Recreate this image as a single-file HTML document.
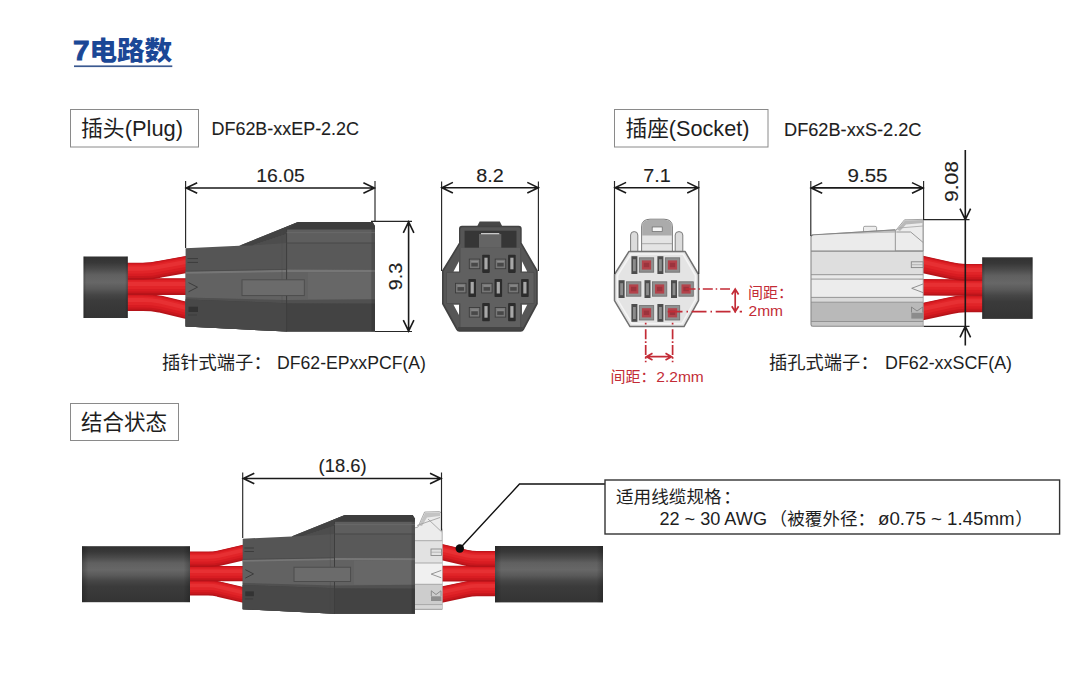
<!DOCTYPE html>
<html lang="zh-CN">
<head>
<meta charset="utf-8">
<title>7电路数</title>
<style>
html,body{margin:0;padding:0;background:#fff;}
body{width:1080px;height:675px;overflow:hidden;font-family:"Liberation Sans","Noto Sans CJK SC",sans-serif;}
svg{display:block;}
text{font-family:"Liberation Sans","Noto Sans CJK SC",sans-serif;fill:#1e1e1e;}
.dim{stroke:#1a1a1a;stroke-width:1.6;fill:none;}
.dt{stroke:#1e1e1e;stroke-width:0.12px;}
.ext{stroke:#262626;stroke-width:1.15;fill:none;}
.red{stroke:#c32b36;stroke-width:1.7;fill:none;}
.rt{fill:#c32b36;}
</style>
</head>
<body>
<svg width="1080" height="675" viewBox="0 0 1080 675">
<defs>
<linearGradient id="cab" x1="0" y1="0" x2="0" y2="1">
<stop offset="0" stop-color="#313131"/><stop offset="0.1" stop-color="#383838"/><stop offset="0.2" stop-color="#4a4a4a"/><stop offset="0.3" stop-color="#606060"/><stop offset="0.42" stop-color="#676767"/><stop offset="0.52" stop-color="#5a5a5a"/><stop offset="0.62" stop-color="#464646"/><stop offset="0.72" stop-color="#3b3b3b"/><stop offset="1" stop-color="#343434"/>
</linearGradient>
<linearGradient id="cabe" x1="0" y1="0" x2="1" y2="0">
<stop offset="0" stop-color="#000" stop-opacity="0.22"/><stop offset="0.06" stop-color="#000" stop-opacity="0"/><stop offset="0.94" stop-color="#000" stop-opacity="0"/><stop offset="1" stop-color="#000" stop-opacity="0.22"/>
</linearGradient>
</defs>

<text x="72.9" y="60.1" font-size="27.6" font-weight="900" style="fill:#1b4796;stroke:#1b4796;stroke-width:0.9" textLength="16.6" lengthAdjust="spacingAndGlyphs">7</text>
<text x="89.4" y="60.1" font-size="25.6" font-weight="900" style="fill:#1b4796" textLength="82.8" lengthAdjust="spacingAndGlyphs">电路数</text>
<rect x="74" y="65.4" width="98.3" height="1.7" fill="#3a5990"/>
<rect x="70.5" y="109.5" width="128" height="37.5" fill="#fff" stroke="#8a8a8a" stroke-width="1"/>
<text x="81" y="135.5" font-size="21.5" textLength="102" lengthAdjust="spacingAndGlyphs">插头(Plug)</text>
<text x="211.5" y="135.4" class="dt" font-size="18.7" textLength="147.5" lengthAdjust="spacingAndGlyphs">DF62B-xxEP-2.2C</text>
<rect x="614.5" y="109.5" width="153.5" height="37.5" fill="#fff" stroke="#8a8a8a" stroke-width="1"/>
<text x="625.5" y="135.5" font-size="21.5" textLength="124" lengthAdjust="spacingAndGlyphs">插座(Socket)</text>
<text x="784" y="135.6" class="dt" font-size="18.7" textLength="137.5" lengthAdjust="spacingAndGlyphs">DF62B-xxS-2.2C</text>
<g id="plug-side">
<path d="M124,302.6 L143,302.6 Q152,302.6 160,304.1 L190,311.3" fill="none" stroke="#b51319" stroke-width="17.0"/><path d="M124,302.6 L143,302.6 Q152,302.6 160,304.1 L190,311.3" fill="none" stroke="#c9171d" stroke-width="15.0" transform="translate(0,-0.60)"/><path d="M124,302.6 L143,302.6 Q152,302.6 160,304.1 L190,311.3" fill="none" stroke="#d81c22" stroke-width="12.2" transform="translate(0,-1.19)"/><path d="M124,302.6 L143,302.6 Q152,302.6 160,304.1 L190,311.3" fill="none" stroke="#e12428" stroke-width="8.5" transform="translate(0,-1.87)"/><path d="M124,302.6 L143,302.6 Q152,302.6 160,304.1 L190,311.3" fill="none" stroke="#e73033" stroke-width="4.1" transform="translate(0,-2.55)"/>
<path d="M124,286.6 L190,286.6" fill="none" stroke="#b51319" stroke-width="16.6"/><path d="M124,286.6 L190,286.6" fill="none" stroke="#c9171d" stroke-width="14.6" transform="translate(0,-0.58)"/><path d="M124,286.6 L190,286.6" fill="none" stroke="#d81c22" stroke-width="12.0" transform="translate(0,-1.16)"/><path d="M124,286.6 L190,286.6" fill="none" stroke="#e12428" stroke-width="8.3" transform="translate(0,-1.83)"/><path d="M124,286.6 L190,286.6" fill="none" stroke="#e73033" stroke-width="4.0" transform="translate(0,-2.49)"/>
<path d="M124,271.2 L143,271.2 Q152,271.2 160,269.2 L190,263.8" fill="none" stroke="#b51319" stroke-width="17.0"/><path d="M124,271.2 L143,271.2 Q152,271.2 160,269.2 L190,263.8" fill="none" stroke="#c9171d" stroke-width="15.0" transform="translate(0,-0.60)"/><path d="M124,271.2 L143,271.2 Q152,271.2 160,269.2 L190,263.8" fill="none" stroke="#d81c22" stroke-width="12.2" transform="translate(0,-1.19)"/><path d="M124,271.2 L143,271.2 Q152,271.2 160,269.2 L190,263.8" fill="none" stroke="#e12428" stroke-width="8.5" transform="translate(0,-1.87)"/><path d="M124,271.2 L143,271.2 Q152,271.2 160,269.2 L190,263.8" fill="none" stroke="#e73033" stroke-width="4.1" transform="translate(0,-2.55)"/>
<rect x="83.5" y="256.5" width="44.3" height="61.5" fill="url(#cab)"/><rect x="83.5" y="256.5" width="44.3" height="61.5" fill="url(#cabe)"/>
<path d="M185.6,248.3 L239.3,245.8 L298.0,222.0 L372.6,222.0 L375.0,226.0 L375.0,331.5 L286.6,331.5 L185.6,326.5 Z" fill="#555"/><rect x="286.6" y="229.0" width="88.4" height="14.0" fill="#5e5e5e"/><rect x="286.6" y="243.0" width="88.4" height="28.0" fill="#595959"/><path d="M298.0,222.0 L372.6,222.0 L375.0,226.0 L375.0,229.4 L286.6,229.4 L281.0,229.2 Z" fill="#3d3d3d"/><path d="M239.3,245.8 L298.0,222.0 L286.6,229.4 L286.6,234.0 L252.0,245.4 Z" fill="#434343"/><path d="M252.0,245.4 L286.6,234.0 V243.0 Z" fill="#4d4d4d"/><path d="M185.6,271.5 L286.6,269.6 L375.0,269.8 L375.0,300.0 L286.6,301.5 L185.6,297.6 Z" fill="#626262"/><rect x="308.0" y="272.4" width="63.0" height="26.9" fill="#676767"/><path d="M185.6,272.6 L286.6,270.8 L375.0,271.0" stroke="#767676" stroke-width="2.2" fill="none"/><path d="M185.6,271.2 L286.6,269.4" stroke="#474747" stroke-width="0.8" fill="none"/><path d="M185.6,297.4 L286.6,300.0 L375.0,299.3 L375.0,331.5 L286.6,331.5 L185.6,326.5 Z" fill="#505050"/><path d="M185.6,299.6 L286.6,303.2 L375.0,303.6 L375.0,331.5 L286.6,331.5 L185.6,326.5 Z" fill="#434343"/><path d="M185.6,299.6 L286.6,303.2 L286.6,331.5 L185.6,326.5 Z" fill="#484848"/><rect x="371.4" y="229.4" width="3.6" height="102.1" fill="#000" opacity="0.13"/><path d="M286.6,229.0 V331.5" stroke="#3e3e3e" stroke-width="1" fill="none"/><path d="M282.0,231.0 V331.2" stroke="#4a4a4a" stroke-width="0.6" fill="none" opacity="0.6"/><path d="M286.6,243.0 H375.0" stroke="#484848" stroke-width="1.1" fill="none"/><path d="M286.6,232.6 H375.0" stroke="#6c6c6c" stroke-width="0.8" fill="none"/><rect x="242.0" y="279.8" width="62.3" height="15.8" fill="#6b6b6b" stroke="#4b4b4b" stroke-width="0.9"/><path d="M187.5,258.6 h10.5 M187.5,262.4 h10.5 M188.5,282.6 l9.0,4.6 l-9.0,4.6 M188.0,315.0 h9.0" stroke="#3c3c3c" stroke-width="1" fill="none"/><rect x="188.5" y="306.7" width="9.5" height="5.3" fill="#333"/>
</g>
<path class="ext" d="M185.6,181V248M375,181V222"/>
<path class="dim" d="M186.2,188H374.4M197.2,182.7L186.2,188L197.2,193.3M363.4,182.7L374.4,188L363.4,193.3"/>
<text x="280.5" y="181.7" class="dt" font-size="18.7" text-anchor="middle" textLength="48.5" lengthAdjust="spacingAndGlyphs">16.05</text>
<path class="ext" d="M371,221.4H412M375,331.5H412"/>
<path class="dim" d="M408.6,221.8V331.2M403.3,232.8L408.6,221.8L413.90000000000003,232.8M403.3,320.2L408.6,331.2L413.90000000000003,320.2"/>
<text transform="translate(402.3,276.5) rotate(-90)" class="dt" font-size="18.7" text-anchor="middle" textLength="27.5" lengthAdjust="spacingAndGlyphs">9.3</text>
<text x="162" y="368.8" font-size="18.3">插针式端子：</text>
<text x="277" y="368.5" font-size="18" textLength="149" lengthAdjust="spacingAndGlyphs">DF62-EPxxPCF(A)</text>
<g id="plug-front">
<path d="M477.2,226.2 L479.6,221.5 L499.8,221.5 L502.2,226.2 Z" fill="#474747"/>
<path d="M462,225.7 H518.7 Q521.7,225.7 521.7,228.7 V242.8 L537.8,270.6 V303.9 L524,329.8 Q523,331.7 520.8,331.7 H459.4 Q457.2,331.7 456.2,329.8 L442,303.9 V270.6 L459,242.8 V228.7 Q459,225.7 462,225.7 Z" fill="#424242"/>
<path d="M462.5,227.2 H518.2 Q520.3,227.2 520.3,229.3 V243.6 L536.2,271.2 V303.3 L522.6,328.6 Q522,329.9 520.4,329.9 H459.8 Q458.2,329.9 457.6,328.6 L443.6,303.3 V271.2 L460.4,243.6 V229.3 Q460.4,227.2 462.5,227.2 Z" fill="#565656"/>
<path d="M459,261.3 V271.5 H453.5 Z M522,261.3 V271.5 H527.2 Z M459,315 V304.8 H453.5 Z M522,315 V304.8 H527.2 Z" fill="#fff"/>
<path d="M460,248 H520.6 V272.4 H534 V303.5 H520.6 V327 H460 V303.5 H446.5 V272.4 H460 Z" fill="#606060"/>
<path d="M460,248 V272.4 H446.5 V303.5 H460 V327 M520.6,248 V272.4 H534 V303.5 H520.6 V327" fill="none" stroke="#4c4c4c" stroke-width="0.8"/>
<rect x="458" y="327" width="64.6" height="3.2" fill="#444"/>
<rect x="464.6" y="230.7" width="51.9" height="16.9" fill="#363636"/>
<rect x="479" y="234" width="22.3" height="13.8" fill="#646464"/>
<rect x="481" y="233" width="18.3" height="1.3" fill="#c8c8c8"/>
<rect x="469.3" y="259.09999999999997" width="10.5" height="9.6" fill="#777" stroke="#3c3c3c" stroke-width="0.9"/><path d="M471.3,262.9 h6.5 v3.6 h-6.5 z" fill="#484848"/><path d="M471.3,261.7 h7" stroke="#9a9a9a" stroke-width="0.7"/><rect x="482.2" y="254.7" width="7.6" height="18.2" rx="0.8" fill="#2c2c2c"/><rect x="484.40000000000003" y="257.7" width="3.2" height="11.6" fill="#a8a8a8"/>
<rect x="469.3" y="307.5" width="10.5" height="9.6" fill="#777" stroke="#3c3c3c" stroke-width="0.9"/><path d="M471.3,311.3 h6.5 v3.6 h-6.5 z" fill="#484848"/><path d="M471.3,310.1 h7" stroke="#9a9a9a" stroke-width="0.7"/><rect x="482.2" y="303.1" width="7.6" height="18.2" rx="0.8" fill="#2c2c2c"/><rect x="484.40000000000003" y="306.1" width="3.2" height="11.6" fill="#a8a8a8"/>
<rect x="495.2" y="259.09999999999997" width="10.5" height="9.6" fill="#777" stroke="#3c3c3c" stroke-width="0.9"/><path d="M497.2,262.9 h6.5 v3.6 h-6.5 z" fill="#484848"/><path d="M497.2,261.7 h7" stroke="#9a9a9a" stroke-width="0.7"/><rect x="508.09999999999997" y="254.7" width="7.6" height="18.2" rx="0.8" fill="#2c2c2c"/><rect x="510.3" y="257.7" width="3.2" height="11.6" fill="#a8a8a8"/>
<rect x="495.2" y="307.5" width="10.5" height="9.6" fill="#777" stroke="#3c3c3c" stroke-width="0.9"/><path d="M497.2,311.3 h6.5 v3.6 h-6.5 z" fill="#484848"/><path d="M497.2,310.1 h7" stroke="#9a9a9a" stroke-width="0.7"/><rect x="508.09999999999997" y="303.1" width="7.6" height="18.2" rx="0.8" fill="#2c2c2c"/><rect x="510.3" y="306.1" width="3.2" height="11.6" fill="#a8a8a8"/>
<rect x="455.5" y="283.29999999999995" width="10.5" height="9.6" fill="#777" stroke="#3c3c3c" stroke-width="0.9"/><path d="M457.5,287.09999999999997 h6.5 v3.6 h-6.5 z" fill="#484848"/><path d="M457.5,285.9 h7" stroke="#9a9a9a" stroke-width="0.7"/><rect x="468.4" y="278.9" width="7.6" height="18.2" rx="0.8" fill="#2c2c2c"/><rect x="470.6" y="281.9" width="3.2" height="11.6" fill="#a8a8a8"/>
<rect x="481.6" y="283.29999999999995" width="10.5" height="9.6" fill="#777" stroke="#3c3c3c" stroke-width="0.9"/><path d="M483.6,287.09999999999997 h6.5 v3.6 h-6.5 z" fill="#484848"/><path d="M483.6,285.9 h7" stroke="#9a9a9a" stroke-width="0.7"/><rect x="494.5" y="278.9" width="7.6" height="18.2" rx="0.8" fill="#2c2c2c"/><rect x="496.70000000000005" y="281.9" width="3.2" height="11.6" fill="#a8a8a8"/>
<rect x="508.2" y="283.29999999999995" width="10.5" height="9.6" fill="#777" stroke="#3c3c3c" stroke-width="0.9"/><path d="M510.2,287.09999999999997 h6.5 v3.6 h-6.5 z" fill="#484848"/><path d="M510.2,285.9 h7" stroke="#9a9a9a" stroke-width="0.7"/><rect x="521.1" y="278.9" width="7.6" height="18.2" rx="0.8" fill="#2c2c2c"/><rect x="523.3" y="281.9" width="3.2" height="11.6" fill="#a8a8a8"/>
</g>
<path class="ext" d="M441.6,181.5V271M538.4,181.5V271"/>
<path class="dim" d="M441.9,187.7H538.3M452.9,182.39999999999998L441.9,187.7L452.9,193.0M527.3,182.39999999999998L538.3,187.7L527.3,193.0"/>
<text x="490" y="181.7" class="dt" font-size="18.7" text-anchor="middle" textLength="27.5" lengthAdjust="spacingAndGlyphs">8.2</text>
<g id="socket-front">
<path d="M630.6,252 V235 Q630.6,231.6 634.2,231.6 Q637.8,231.6 637.8,235 V252 Z M675.2,252 V235 Q675.2,231.6 679,231.6 Q682.8,231.6 682.8,235 V252 Z" fill="#dcdcdc" stroke="#7c7c7c" stroke-width="1"/>
<path d="M641.6,252 V227 Q641.6,219.2 650,219.2 H664 Q672.4,219.2 672.4,227 V252 Z" fill="#e4e4e4" stroke="#7c7c7c" stroke-width="1"/>
<path d="M642.2,235.5 V227 Q642.2,219.8 650,219.8 H664 Q671.8,219.8 671.8,227 V235.5 Z" fill="#ababab"/>
<rect x="652.2" y="227" width="10" height="4.4" fill="#f4f4f4" stroke="#6a6a6a" stroke-width="0.7"/>
<path d="M642,243.7 H672" stroke="#9a9a9a" stroke-width="0.8"/>
<path d="M629,251.4 H685 L698.5,274.5 V300.6 L684,326.6 H630 L614.5,300.6 V274.5 Z" fill="#e4e4e4" stroke="#727272" stroke-width="1.5" stroke-linejoin="round"/>
<path d="M631,254 H683 L695.5,275.5 V299.6 L682,323.6 H632 L617.5,299.6 V275.5 Z" fill="none" stroke="#f4f4f4" stroke-width="1.6"/>
<rect x="631.4" y="256.2" width="6" height="17.8" fill="#4d4d4d"/><rect x="633.0" y="259.2" width="2.8" height="12" fill="#8c8c8c"/><rect x="639.3" y="257.8" width="14.4" height="14.4" fill="#8f8f8f" stroke="#6c6c6c" stroke-width="0.8"/><rect x="641.9" y="260.4" width="9.2" height="9.2" fill="#b4434b"/><rect x="643.8" y="262.8" width="5.4" height="4.4" fill="#9b343d"/>
<rect x="631.4" y="304" width="6" height="17.8" fill="#4d4d4d"/><rect x="633.0" y="307" width="2.8" height="12" fill="#8c8c8c"/><rect x="639.3" y="305.6" width="14.4" height="14.4" fill="#8f8f8f" stroke="#6c6c6c" stroke-width="0.8"/><rect x="641.9" y="308.2" width="9.2" height="9.2" fill="#b4434b"/><rect x="643.8" y="310.6" width="5.4" height="4.4" fill="#9b343d"/>
<rect x="657.4" y="256.2" width="6" height="17.8" fill="#4d4d4d"/><rect x="659.0" y="259.2" width="2.8" height="12" fill="#8c8c8c"/><rect x="665.3" y="257.8" width="14.4" height="14.4" fill="#8f8f8f" stroke="#6c6c6c" stroke-width="0.8"/><rect x="667.9" y="260.4" width="9.2" height="9.2" fill="#b4434b"/><rect x="669.8" y="262.8" width="5.4" height="4.4" fill="#9b343d"/>
<rect x="657.4" y="304" width="6" height="17.8" fill="#4d4d4d"/><rect x="659.0" y="307" width="2.8" height="12" fill="#8c8c8c"/><rect x="665.3" y="305.6" width="14.4" height="14.4" fill="#8f8f8f" stroke="#6c6c6c" stroke-width="0.8"/><rect x="667.9" y="308.2" width="9.2" height="9.2" fill="#b4434b"/><rect x="669.8" y="310.6" width="5.4" height="4.4" fill="#9b343d"/>
<rect x="618.6" y="280.2" width="6" height="17.8" fill="#4d4d4d"/><rect x="620.2" y="283.2" width="2.8" height="12" fill="#8c8c8c"/><rect x="626.5" y="281.8" width="14.4" height="14.4" fill="#8f8f8f" stroke="#6c6c6c" stroke-width="0.8"/><rect x="629.1" y="284.4" width="9.2" height="9.2" fill="#b4434b"/><rect x="631.0" y="286.8" width="5.4" height="4.4" fill="#9b343d"/>
<rect x="644.5" y="280.2" width="6" height="17.8" fill="#4d4d4d"/><rect x="646.1" y="283.2" width="2.8" height="12" fill="#8c8c8c"/><rect x="652.4" y="281.8" width="14.4" height="14.4" fill="#8f8f8f" stroke="#6c6c6c" stroke-width="0.8"/><rect x="655.0" y="284.4" width="9.2" height="9.2" fill="#b4434b"/><rect x="656.9" y="286.8" width="5.4" height="4.4" fill="#9b343d"/>
<rect x="671" y="280.2" width="6" height="17.8" fill="#4d4d4d"/><rect x="672.6" y="283.2" width="2.8" height="12" fill="#8c8c8c"/><rect x="678.9" y="281.8" width="14.4" height="14.4" fill="#8f8f8f" stroke="#6c6c6c" stroke-width="0.8"/><rect x="681.5" y="284.4" width="9.2" height="9.2" fill="#b4434b"/><rect x="683.4" y="286.8" width="5.4" height="4.4" fill="#9b343d"/>
</g>
<path class="ext" d="M614.5,181V274M698.8,181V274"/>
<path class="dim" d="M615.1,187.7H698.2M626.1,182.39999999999998L615.1,187.7L626.1,193.0M687.2,182.39999999999998L698.2,187.7L687.2,193.0"/>
<text x="657" y="181.7" class="dt" font-size="18.7" text-anchor="middle" textLength="27.5" lengthAdjust="spacingAndGlyphs">7.1</text>
<path class="red" d="M685.5,289H730" stroke-dasharray="10 2.9 1.5 2.9"/>
<path class="red" d="M667.7,311.7H742" stroke-dasharray="14.8 4 1.5 3.7"/>
<path class="red" d="M645.7,322.8V362.3M672.6,322.8V362.3" stroke-dasharray="1.7 4.8 10 2 1.7 2 10 2 1.7 2 1.6 50"/>
<path class="red" d="M735.2,289V311.7M731.8000000000001,294.5L735.2,289L738.6,294.5M731.8000000000001,306.2L735.2,311.7L738.6,306.2"/>
<path class="red" d="M646.5,356.7H671.5M652.5,353.3L646.5,356.7L652.5,360.09999999999997M665.5,353.3L671.5,356.7L665.5,360.09999999999997"/>
<text x="748" y="298.3" font-size="15" style="fill:#c32b36">间距：</text>
<text x="748.5" y="316" font-size="15" style="fill:#c32b36" textLength="34.5" lengthAdjust="spacingAndGlyphs">2mm</text>
<text x="610.5" y="381.7" font-size="15" style="fill:#c32b36">间距：</text>
<text x="656.3" y="381.7" font-size="15" style="fill:#c32b36" textLength="47.5" lengthAdjust="spacingAndGlyphs">2.2mm</text>
<g id="socket-side">
<path d="M986,303.8 L966,303.8 Q958,303.8 950,305.7 L919,312.4" fill="none" stroke="#b51319" stroke-width="17.0"/><path d="M986,303.8 L966,303.8 Q958,303.8 950,305.7 L919,312.4" fill="none" stroke="#c9171d" stroke-width="15.0" transform="translate(0,-0.60)"/><path d="M986,303.8 L966,303.8 Q958,303.8 950,305.7 L919,312.4" fill="none" stroke="#d81c22" stroke-width="12.2" transform="translate(0,-1.19)"/><path d="M986,303.8 L966,303.8 Q958,303.8 950,305.7 L919,312.4" fill="none" stroke="#e12428" stroke-width="8.5" transform="translate(0,-1.87)"/><path d="M986,303.8 L966,303.8 Q958,303.8 950,305.7 L919,312.4" fill="none" stroke="#e73033" stroke-width="4.1" transform="translate(0,-2.55)"/>
<path d="M986,287.8 L919,287.3" fill="none" stroke="#b51319" stroke-width="16.6"/><path d="M986,287.8 L919,287.3" fill="none" stroke="#c9171d" stroke-width="14.6" transform="translate(0,-0.58)"/><path d="M986,287.8 L919,287.3" fill="none" stroke="#d81c22" stroke-width="12.0" transform="translate(0,-1.16)"/><path d="M986,287.8 L919,287.3" fill="none" stroke="#e12428" stroke-width="8.3" transform="translate(0,-1.83)"/><path d="M986,287.8 L919,287.3" fill="none" stroke="#e73033" stroke-width="4.0" transform="translate(0,-2.49)"/>
<path d="M986,272.4 L966,272.4 Q958,272.4 950,270.5 L919,263.6" fill="none" stroke="#b51319" stroke-width="17.0"/><path d="M986,272.4 L966,272.4 Q958,272.4 950,270.5 L919,263.6" fill="none" stroke="#c9171d" stroke-width="15.0" transform="translate(0,-0.60)"/><path d="M986,272.4 L966,272.4 Q958,272.4 950,270.5 L919,263.6" fill="none" stroke="#d81c22" stroke-width="12.2" transform="translate(0,-1.19)"/><path d="M986,272.4 L966,272.4 Q958,272.4 950,270.5 L919,263.6" fill="none" stroke="#e12428" stroke-width="8.5" transform="translate(0,-1.87)"/><path d="M986,272.4 L966,272.4 Q958,272.4 950,270.5 L919,263.6" fill="none" stroke="#e73033" stroke-width="4.1" transform="translate(0,-2.55)"/>
<rect x="982.2" y="257.3" width="50.4" height="61.6" fill="url(#cab)"/><rect x="982.2" y="257.3" width="50.4" height="61.6" fill="url(#cabe)"/>
<path d="M895.3,231 L904.5,219.8 L922.6,219.4 L923.2,220.2 V251 H895.3 Z" fill="#ececec" stroke="#8e8e8e" stroke-width="0.8"/><path d="M897,229.5 L905,220.5 L922.8,220 L922.8,223 L906,224.5 L900,231 Z" fill="#b9b9b9"/><path d="M896.3,232 H910.7 L923.2,242.5" stroke="#8e8e8e" stroke-width="0.9" fill="none"/><path d="M899,228 L923,226" stroke="#a5a5a5" stroke-width="0.8" fill="none"/><path d="M863.5,232.5 V227.5 Q863.5,226.3 865,226.3 H875 Q876.6,226.3 876.6,227.5 V231.6 Z" fill="#ededed" stroke="#8e8e8e" stroke-width="0.8"/><path d="M828,234 L895.3,229.8 V233 L813,235.3 Z" fill="#bdbdbd" stroke="#8e8e8e" stroke-width="0.7"/><path d="M811,237 Q811,234.8 813.5,234.8 L895.3,232.6 V251.2 H811 Z" fill="#ebebeb"/><path d="M895.3,232.6 V251.2" stroke="#9a9a9a" stroke-width="0.9"/><path d="M811.3,236.6 Q811.3,234.9 813.5,234.8 L829,233.9 L895.3,229.8" stroke="#858585" stroke-width="1" fill="none"/><rect x="811" y="251.2" width="112.2" height="24" fill="#dedede"/><rect x="811" y="274.7" width="112.2" height="4.4" fill="#e9e9e9"/><rect x="811" y="279.1" width="112.2" height="18.6" fill="#ececec"/><rect x="811" y="297.4" width="112.2" height="4.8" fill="#d9d9d9"/><rect x="811" y="302.2" width="112.2" height="19.5" fill="#b9b9b9"/><rect x="811" y="321.5" width="112.2" height="4.8" fill="#c6c6c6"/><path d="M811,251.2 H923.2" stroke="#868686" stroke-width="1.3" fill="none"/><path d="M811,274.7 H923.2 M811,279.1 H923.2 M811,297.4 H923.2 M811,302.2 H923.2 M811,321.5 H923.2" stroke="#8c8c8c" stroke-width="0.9" fill="none"/><path d="M811,237 Q811,234.8 813.5,234.8 M811,236.5 V324.5 Q811,326.3 813,326.3 H923.2" stroke="#8a8a8a" stroke-width="1.1" fill="none"/><path d="M923.2,220 V326.3" stroke="#9a9a9a" stroke-width="0.8" fill="none"/><rect x="911.3" y="261.8" width="11.9" height="5.8" fill="none" stroke="#858585" stroke-width="0.9"/><path d="M911.3,264.7 H923.2" stroke="#a0a0a0" stroke-width="0.7"/><path d="M923,284 L911.7,288.3 L923,292.6" fill="none" stroke="#858585" stroke-width="0.9"/><path d="M911.5,312.5 V307 L917,311 L922.8,307 V312.5" fill="none" stroke="#808080" stroke-width="0.9"/><rect x="911.3" y="312.8" width="11.9" height="5.8" fill="#8c8c8c"/>
</g>
<path class="ext" d="M810.8,181V236M923.6,181V220"/>
<path class="dim" d="M811.2,187.9H923M822.2,182.6L811.2,187.9L822.2,193.20000000000002M912,182.6L923,187.9L912,193.20000000000002"/>
<text x="867.5" y="181.7" class="dt" font-size="18.7" text-anchor="middle" textLength="40" lengthAdjust="spacingAndGlyphs">9.55</text>
<path class="ext" d="M923.6,219.6H969.5M923.6,326.3H969.5"/>
<path class="dim" d="M965.3,150V345.5M960,208.6L965.3,219.6L970.6,208.6M960,337.3L965.3,326.3L970.6,337.3"/>
<text transform="translate(958.3,181.5) rotate(-90)" class="dt" font-size="18.7" text-anchor="middle" textLength="41" lengthAdjust="spacingAndGlyphs">9.08</text>
<text x="769" y="368.8" font-size="18.3">插孔式端子：</text>
<text x="885" y="368.5" font-size="18" textLength="127" lengthAdjust="spacingAndGlyphs">DF62-xxSCF(A)</text>
<rect x="70.5" y="403.5" width="108" height="37" fill="#fff" stroke="#8a8a8a" stroke-width="1"/>
<text x="81" y="430" font-size="21.5" textLength="86" lengthAdjust="spacingAndGlyphs">结合状态</text>
<g id="combined">
<path d="M186,587.8 L208,587.8 Q214,587.8 219,589.2 L247,595.8" fill="none" stroke="#b51319" stroke-width="15.4"/><path d="M186,587.8 L208,587.8 Q214,587.8 219,589.2 L247,595.8" fill="none" stroke="#c9171d" stroke-width="13.6" transform="translate(0,-0.54)"/><path d="M186,587.8 L208,587.8 Q214,587.8 219,589.2 L247,595.8" fill="none" stroke="#d81c22" stroke-width="11.1" transform="translate(0,-1.08)"/><path d="M186,587.8 L208,587.8 Q214,587.8 219,589.2 L247,595.8" fill="none" stroke="#e12428" stroke-width="7.7" transform="translate(0,-1.69)"/><path d="M186,587.8 L208,587.8 Q214,587.8 219,589.2 L247,595.8" fill="none" stroke="#e73033" stroke-width="3.7" transform="translate(0,-2.31)"/>
<path d="M186,573.6 L247,573.6" fill="none" stroke="#b51319" stroke-width="15.2"/><path d="M186,573.6 L247,573.6" fill="none" stroke="#c9171d" stroke-width="13.4" transform="translate(0,-0.53)"/><path d="M186,573.6 L247,573.6" fill="none" stroke="#d81c22" stroke-width="10.9" transform="translate(0,-1.06)"/><path d="M186,573.6 L247,573.6" fill="none" stroke="#e12428" stroke-width="7.6" transform="translate(0,-1.67)"/><path d="M186,573.6 L247,573.6" fill="none" stroke="#e73033" stroke-width="3.6" transform="translate(0,-2.28)"/>
<path d="M186,559.3 L208,559.3 Q214,559.3 219,558.2 L247,551.7" fill="none" stroke="#b51319" stroke-width="15.4"/><path d="M186,559.3 L208,559.3 Q214,559.3 219,558.2 L247,551.7" fill="none" stroke="#c9171d" stroke-width="13.6" transform="translate(0,-0.54)"/><path d="M186,559.3 L208,559.3 Q214,559.3 219,558.2 L247,551.7" fill="none" stroke="#d81c22" stroke-width="11.1" transform="translate(0,-1.08)"/><path d="M186,559.3 L208,559.3 Q214,559.3 219,558.2 L247,551.7" fill="none" stroke="#e12428" stroke-width="7.7" transform="translate(0,-1.69)"/><path d="M186,559.3 L208,559.3 Q214,559.3 219,558.2 L247,551.7" fill="none" stroke="#e73033" stroke-width="3.7" transform="translate(0,-2.31)"/>
<path d="M499,588.3 L477,588.3 Q471,588.3 466,589.5 L438,595.4" fill="none" stroke="#b51319" stroke-width="16.0"/><path d="M499,588.3 L477,588.3 Q471,588.3 466,589.5 L438,595.4" fill="none" stroke="#c9171d" stroke-width="14.1" transform="translate(0,-0.56)"/><path d="M499,588.3 L477,588.3 Q471,588.3 466,589.5 L438,595.4" fill="none" stroke="#d81c22" stroke-width="11.5" transform="translate(0,-1.12)"/><path d="M499,588.3 L477,588.3 Q471,588.3 466,589.5 L438,595.4" fill="none" stroke="#e12428" stroke-width="8.0" transform="translate(0,-1.76)"/><path d="M499,588.3 L477,588.3 Q471,588.3 466,589.5 L438,595.4" fill="none" stroke="#e73033" stroke-width="3.8" transform="translate(0,-2.40)"/>
<path d="M499,573.7 L438,573.6" fill="none" stroke="#b51319" stroke-width="15.8"/><path d="M499,573.7 L438,573.6" fill="none" stroke="#c9171d" stroke-width="13.9" transform="translate(0,-0.55)"/><path d="M499,573.7 L438,573.6" fill="none" stroke="#d81c22" stroke-width="11.4" transform="translate(0,-1.11)"/><path d="M499,573.7 L438,573.6" fill="none" stroke="#e12428" stroke-width="7.9" transform="translate(0,-1.74)"/><path d="M499,573.7 L438,573.6" fill="none" stroke="#e73033" stroke-width="3.8" transform="translate(0,-2.37)"/>
<path d="M499,559 L477,559 Q471,559 466,557.7 L438,551.3" fill="none" stroke="#b51319" stroke-width="16.0"/><path d="M499,559 L477,559 Q471,559 466,557.7 L438,551.3" fill="none" stroke="#c9171d" stroke-width="14.1" transform="translate(0,-0.56)"/><path d="M499,559 L477,559 Q471,559 466,557.7 L438,551.3" fill="none" stroke="#d81c22" stroke-width="11.5" transform="translate(0,-1.12)"/><path d="M499,559 L477,559 Q471,559 466,557.7 L438,551.3" fill="none" stroke="#e12428" stroke-width="8.0" transform="translate(0,-1.76)"/><path d="M499,559 L477,559 Q471,559 466,557.7 L438,551.3" fill="none" stroke="#e73033" stroke-width="3.8" transform="translate(0,-2.40)"/>
<rect x="82" y="546.2" width="108" height="56" fill="url(#cab)"/><rect x="82" y="546.2" width="108" height="56" fill="url(#cabe)"/>
<rect x="495" y="546" width="108" height="56.4" fill="url(#cab)"/><rect x="495" y="546" width="108" height="56.4" fill="url(#cabe)"/>
<path d="M414.4,528 L418,527 L424.6,512 L439.4,511.6 L441.6,513 V528 L442.2,530 V609.3 H414.4 Z" fill="#ececec" stroke="#9a9a9a" stroke-width="0.8"/>
<path d="M419,525.5 L425,513 L440,512.6 L440,516 L427,517.5 L422,526 Z" fill="#c4c4c4"/>
<rect x="414.4" y="540.7" width="27.8" height="22.3" fill="#e2e2e2"/>
<rect x="414.4" y="563" width="27.8" height="21.3" fill="#f0f0f0"/>
<rect x="414.4" y="584.3" width="27.8" height="20.3" fill="#cdcdcd"/>
<rect x="414.4" y="604.6" width="27.8" height="4.7" fill="#d6d6d6"/>
<path d="M414.4,540.7 H442.2 M414.4,563 H442.2 M414.4,584.3 H442.2 M414.4,604.6 H442.2 M417,525.5 L440,517.5 M428,519 L441.8,532 M414.4,609.3 H442.2" stroke="#9a9a9a" stroke-width="0.8" fill="none"/>
<rect x="431" y="549" width="10.5" height="6.5" fill="none" stroke="#8a8a8a" stroke-width="0.9"/>
<path d="M431,552.2 H441.5" stroke="#a5a5a5" stroke-width="0.7"/>
<path d="M441.3,570.4 L431.2,574.1 L441.3,577.8" fill="none" stroke="#8a8a8a" stroke-width="0.9"/>
<path d="M431.3,596 V590.8 L436,594.5 L441,590.8 V596" fill="none" stroke="#858585" stroke-width="0.9"/>
<rect x="431" y="596.3" width="10.5" height="4.7" fill="#8e8e8e"/>
<path d="M242.7,538.7 L291.5,536.5 L344.9,515.0 L412.7,515.0 L414.9,518.6 L414.9,613.8 L334.5,613.8 L242.7,609.3 Z" fill="#555"/><rect x="334.5" y="521.3" width="80.4" height="12.6" fill="#5e5e5e"/><rect x="334.5" y="534.0" width="80.4" height="25.3" fill="#595959"/><path d="M344.9,515.0 L412.7,515.0 L414.9,518.6 L414.9,521.7 L334.5,521.7 L329.4,521.5 Z" fill="#3d3d3d"/><path d="M291.5,536.5 L344.9,515.0 L334.5,521.7 L334.5,525.8 L303.1,536.1 Z" fill="#434343"/><path d="M303.1,536.1 L334.5,525.8 V534.0 Z" fill="#4d4d4d"/><path d="M242.7,559.7 L334.5,558.0 L414.9,558.1 L414.9,585.4 L334.5,586.7 L242.7,583.2 Z" fill="#626262"/><rect x="354.0" y="560.5" width="57.3" height="24.3" fill="#676767"/><path d="M242.7,560.7 L334.5,559.0 L414.9,559.2" stroke="#767676" stroke-width="2.0" fill="none"/><path d="M242.7,559.4 L334.5,557.8" stroke="#474747" stroke-width="0.8" fill="none"/><path d="M242.7,583.0 L334.5,585.4 L414.9,584.8 L414.9,613.8 L334.5,613.8 L242.7,609.3 Z" fill="#505050"/><path d="M242.7,585.0 L334.5,588.3 L414.9,588.6 L414.9,613.8 L334.5,613.8 L242.7,609.3 Z" fill="#434343"/><path d="M242.7,585.0 L334.5,588.3 L334.5,613.8 L242.7,609.3 Z" fill="#484848"/><rect x="411.6" y="521.7" width="3.3" height="92.1" fill="#000" opacity="0.13"/><path d="M334.5,521.3 V613.8" stroke="#3e3e3e" stroke-width="1" fill="none"/><path d="M330.3,523.1 V613.5" stroke="#4a4a4a" stroke-width="0.6" fill="none" opacity="0.6"/><path d="M334.5,534.0 H414.9" stroke="#484848" stroke-width="1.1" fill="none"/><path d="M334.5,524.6 H414.9" stroke="#6c6c6c" stroke-width="0.8" fill="none"/><rect x="294.0" y="567.2" width="56.6" height="14.3" fill="#6b6b6b" stroke="#4b4b4b" stroke-width="0.9"/><path d="M244.4,548.0 h9.5 M244.4,551.5 h9.5 M245.3,569.7 l8.2,4.2 l-8.2,4.2 M244.9,598.9 h8.2" stroke="#3c3c3c" stroke-width="1" fill="none"/><rect x="245.3" y="591.4" width="8.6" height="4.8" fill="#333"/>
</g>
<path class="ext" d="M242.7,472.6V538M441.5,472.6V530.5"/>
<path class="dim" d="M243.3,478.5H441M254.3,473.2L243.3,478.5L254.3,483.8M430,473.2L441,478.5L430,483.8"/>
<text x="342.6" y="472.2" class="dt" font-size="18.7" text-anchor="middle" textLength="48" lengthAdjust="spacingAndGlyphs">(18.6)</text>
<path d="M459.8,548.5 L519.5,484 H605" stroke="#111" stroke-width="1.4" fill="none"/>
<circle cx="459.8" cy="548.5" r="4.2" fill="#0c0c0c"/>
<rect x="605" y="480" width="454.6" height="54" fill="#fff" stroke="#333" stroke-width="1.4"/>
<text x="616" y="503.3" font-size="17.6">适用线缆规格</text>
<text x="723.2" y="503.3" font-size="17.6">：</text>
<text x="659.4" y="524.9" font-size="18" textLength="107.6" lengthAdjust="spacingAndGlyphs">22 ~ 30 AWG</text>
<text x="769.6" y="524.9" font-size="17.6">（</text>
<text x="787.2" y="524.9" font-size="17.6">被覆外径：</text>
<text x="878" y="524.9" font-size="18" textLength="136.6" lengthAdjust="spacingAndGlyphs">ø0.75 ~ 1.45mm</text>
<text x="1015.3" y="524.9" font-size="17.6">）</text>
</svg>
</body>
</html>
